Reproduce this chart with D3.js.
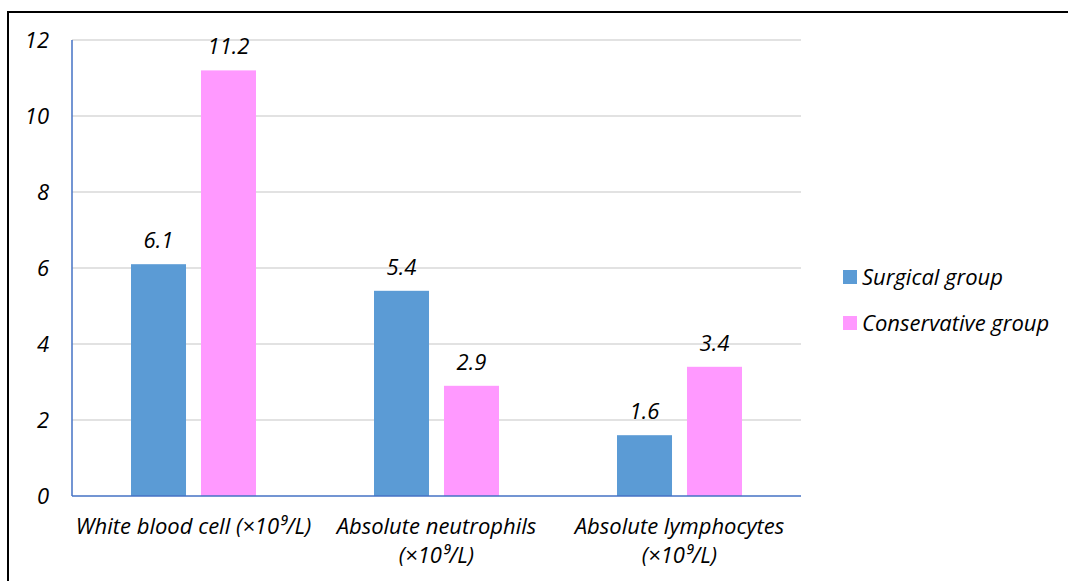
<!DOCTYPE html>
<html>
<head>
<meta charset="utf-8">
<script src="https://cdn.jsdelivr.net/npm/d3@7"></script>
<style>
  html, body { margin: 0; padding: 0; background: #fff; }
  svg { display: block; }
  text { font-family: "Open Sans", Lato, sans-serif; font-style: italic; fill: #000; }
</style>
</head>
<body>
<svg id="chart" width="1068" height="581"></svg>
<script>
const categories = [
  ["White blood cell (×10⁹/L)"],
  ["Absolute neutrophils", "(×10⁹/L)"],
  ["Absolute lymphocytes", "(×10⁹/L)"]
];
const seriesNames = ["Surgical group", "Conservative group"];
const surgical = [6.1, 5.4, 1.6];
const conservative = [11.2, 2.9, 3.4];
const yTicks = [0, 2, 4, 6, 8, 10, 12];
const colors = ["#5b9bd5", "#ff99ff"];

const svg = d3.select("#chart");
const W = 1068, H = 581;
const FS = 22;

// outer frame
svg.append("path")
  .attr("d", `M8,${H} V12 H${W}`)
  .attr("fill", "none").attr("stroke", "#000").attr("stroke-width", 2);

const plot = { left: 72, right: 801, top: 40, bottom: 496 };

const x = d3.scaleBand().domain(d3.range(categories.length))
  .range([plot.left, plot.right]);
// two bars sit in the middle of each category band
const inner = d3.scaleBand().domain([0, 1])
  .range([59, 184]).paddingInner(0.214).paddingOuter(0);
const y = d3.scaleLinear().domain([0, 12]).range([plot.bottom, plot.top]);

// gridlines
svg.append("g").selectAll("line").data(yTicks.filter(t => t > 0)).join("line")
  .attr("x1", plot.left).attr("x2", plot.right)
  .attr("y1", d => y(d)).attr("y2", d => y(d))
  .attr("stroke", "#d9d9d9").attr("stroke-width", 1.5);

// y tick labels
svg.append("g").selectAll("text").data(yTicks).join("text")
  .attr("x", 49).attr("y", d => y(d)).attr("dy", "0.35em")
  .attr("text-anchor", "end").attr("font-size", FS)
  .text(d => d);

// bars with value labels
const groups = [surgical, conservative];
groups.forEach((vals, s) => {
  const g = svg.append("g");
  g.selectAll("rect").data(vals).join("rect")
    .attr("x", (d, i) => x(i) + inner(s))
    .attr("y", d => y(d))
    .attr("width", inner.bandwidth())
    .attr("height", d => y(0) - y(d))
    .attr("fill", colors[s]);
  g.selectAll("text").data(vals).join("text")
    .attr("x", (d, i) => x(i) + inner(s) + inner.bandwidth() / 2)
    .attr("y", d => y(d) - 24)
    .attr("dy", "0.35em")
    .attr("text-anchor", "middle").attr("font-size", FS)
    .text(d => d.toFixed(1));
});

// axis lines
svg.append("line").attr("x1", plot.left).attr("x2", plot.left)
  .attr("y1", plot.top).attr("y2", plot.bottom)
  .attr("stroke", "#4472c4").attr("stroke-width", 1.5);
svg.append("line").attr("x1", plot.left).attr("x2", plot.right)
  .attr("y1", plot.bottom).attr("y2", plot.bottom)
  .attr("stroke", "#4472c4").attr("stroke-width", 1.5);

// category labels
const cl = svg.append("g").selectAll("text").data(categories).join("text")
  .attr("text-anchor", "middle").attr("font-size", FS)
  .attr("transform", (d, i) => `translate(${x(i) + x.bandwidth() / 2},534)`);
cl.selectAll("tspan").data(d => d).join("tspan")
  .attr("x", 0).attr("dy", (d, i) => i === 0 ? 0 : 29)
  .text(d => d);

// legend
const leg = svg.append("g").selectAll("g").data(seriesNames).join("g")
  .attr("transform", (d, i) => `translate(843,${277 + i * 46})`);
leg.append("rect").attr("x", 0).attr("y", -7).attr("width", 14).attr("height", 14)
  .attr("fill", (d, i) => colors[i]);
leg.append("text").attr("x", 19).attr("dy", "0.35em").attr("font-size", FS)
  .text(d => d);
</script>
</body>
</html>
